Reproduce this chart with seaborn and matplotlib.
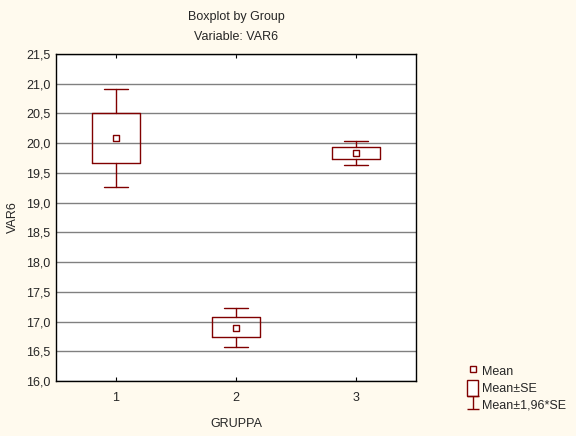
import matplotlib
matplotlib.use("Agg")
import matplotlib.pyplot as plt
import seaborn as sns
import pandas as pd
from matplotlib.lines import Line2D
from matplotlib.patches import Patch
from matplotlib.container import ErrorbarContainer
from matplotlib.collections import LineCollection
from matplotlib.ticker import FixedLocator, FixedFormatter

# values
groups = [1, 2, 3]
means = [20.08, 16.90, 19.84]
se_low = [19.66, 16.74, 19.73]
se_high = [20.50, 17.07, 19.93]
ci_low = [19.26, 16.58, 19.63]
ci_high = [20.91, 17.22, 20.03]
y_ticks = [16.0, 16.5, 17.0, 17.5, 18.0, 18.5, 19.0, 19.5, 20.0, 20.5, 21.0, 21.5]
y_labels = ["16,0", "16,5", "17,0", "17,5", "18,0", "18,5", "19,0", "19,5",
            "20,0", "20,5", "21,0", "21,5"]

RED = "#800000"
BG = "#FFFAEE"
FS = 9

sns.set_style("white")
plt.rcParams["font.family"] = ["Liberation Sans", "DejaVu Sans"]
plt.rcParams["font.size"] = FS

fig = plt.figure(figsize=(5.76, 4.36), dpi=100, facecolor=BG)
ax = fig.add_axes([0.0972, 0.1261, 0.625, 0.750])
ax.set_facecolor("white")

stats = []
for g, m, a, b, lo, hi in zip(groups, means, se_low, se_high, ci_low, ci_high):
    stats.append(dict(label=str(g), med=m, q1=a, q3=b, whislo=lo, whishi=hi, fliers=[]))

ax.bxp(stats, positions=groups, widths=0.4, showfliers=False,
       boxprops=dict(color=RED, linewidth=1.0),
       whiskerprops=dict(color=RED, linewidth=1.0),
       capprops=dict(color=RED, linewidth=1.0),
       medianprops=dict(linewidth=0),
       capwidths=0.2, zorder=3)

df = pd.DataFrame({"group": groups, "mean": means})
sns.scatterplot(data=df, x="group", y="mean", ax=ax, marker="s", s=22,
                facecolor="white", edgecolor=RED, linewidth=1.0, zorder=4,
                legend=False)

ax.set_xlim(0.5, 3.5)
ax.set_ylim(16.0, 21.5)
ax.yaxis.set_major_locator(FixedLocator(y_ticks))
ax.yaxis.set_major_formatter(FixedFormatter(y_labels))
ax.xaxis.set_major_locator(FixedLocator(groups))
ax.xaxis.set_major_formatter(FixedFormatter([str(g) for g in groups]))
ax.grid(axis="y", color="#808080", linewidth=1.0, zorder=0)
ax.set_axisbelow(True)
for s in ax.spines.values():
    s.set_color("black")
    s.set_linewidth(1.0)
ax.tick_params(axis="x", direction="in", length=3, top=True, bottom=True,
               color="black", pad=8, labelsize=FS)
ax.tick_params(axis="y", length=0, pad=4, labelsize=FS)

ax.set_xlabel("GRUPPA", fontsize=FS, labelpad=10)
ax.set_ylabel("VAR6", fontsize=FS, labelpad=5)

fig.text(0.41, 0.962, "Boxplot by Group", ha="center", va="center", fontsize=FS)
fig.text(0.41, 0.915, "Variable: VAR6", ha="center", va="center", fontsize=FS)

# legend
h_mean = Line2D([], [], linestyle="none", marker="s", markersize=4.5,
                markerfacecolor="white", markeredgecolor=RED, markeredgewidth=1.0)
h_se = Patch(facecolor="white", edgecolor=RED, linewidth=1.0)
dl = Line2D([], [], color=RED, linestyle="none")
cap = Line2D([], [], color=RED, linestyle="none", marker="_", markersize=8)
bars = LineCollection([], colors=RED, linewidths=1.0)
h_ci = ErrorbarContainer((dl, (cap, cap), (bars,)), has_xerr=False, has_yerr=True)

fig.legend([h_mean, h_se, h_ci], ["Mean", "Mean\u00b1SE", "Mean\u00b11,96*SE"],
           loc="upper left", bbox_to_anchor=(0.80, 0.182), frameon=False,
           handlelength=0.9, handleheight=1.6, handletextpad=0.3,
           labelspacing=0.05, borderpad=0, fontsize=FS)

fig.savefig("out.png", dpi=100, facecolor=BG)
